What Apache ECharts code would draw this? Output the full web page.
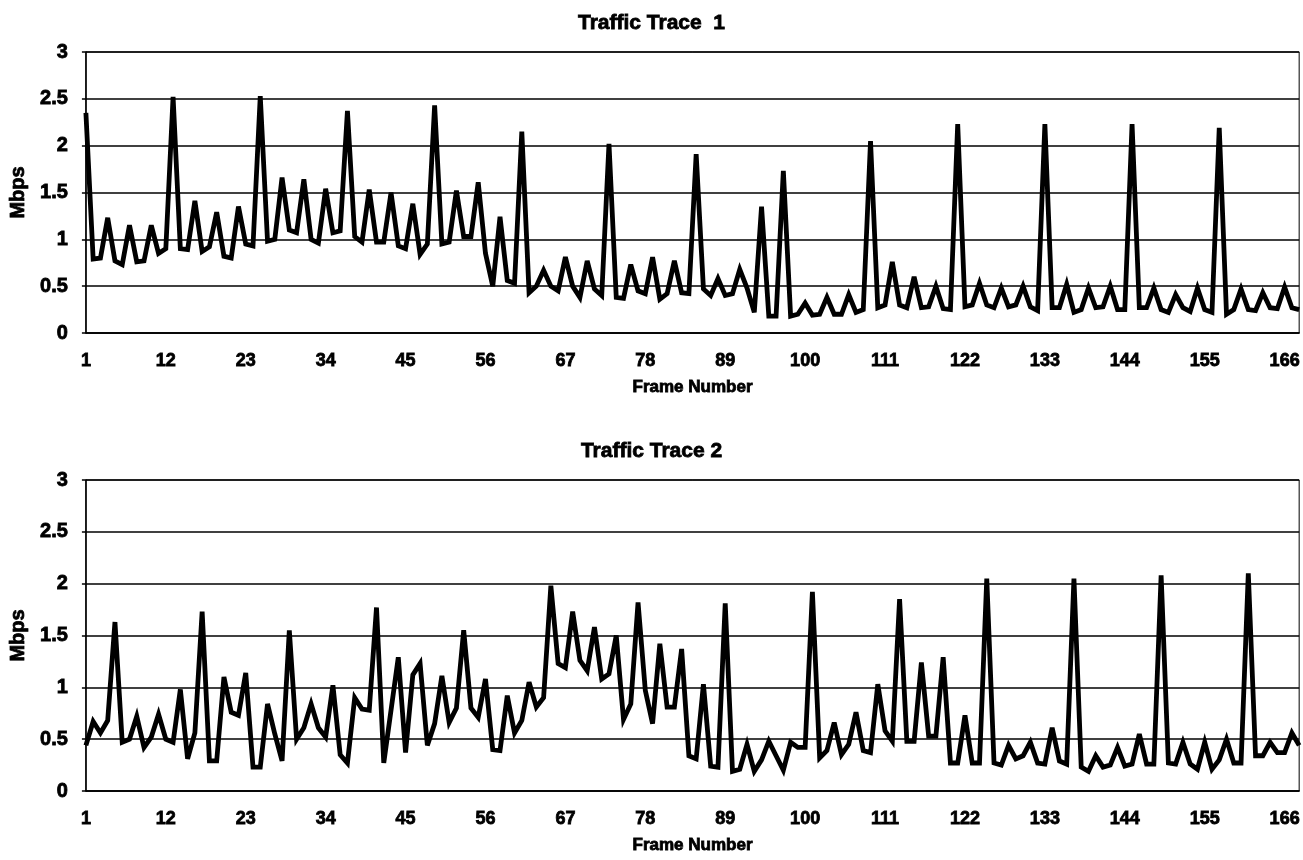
<!DOCTYPE html>
<html>
<head>
<meta charset="utf-8">
<title>Traffic Traces</title>
<script src="https://cdn.jsdelivr.net/npm/echarts@6/dist/echarts.min.js"></script>
<style>
  html, body { margin: 0; padding: 0; background: #fff; }
  #chart { width: 1303px; height: 860px; }
</style>
</head>
<body>
<div id="chart"></div>
<script>
// Frame numbers 1..168
const frames = [];
for (let i = 1; i <= 168; i++) frames.push(String(i));

// Traffic Trace 1 (Mbps per frame)
const trace1 = [
  2.35, 0.79, 0.80, 1.23, 0.77, 0.73, 1.15, 0.76, 0.77, 1.15, 0.85, 0.90,
  2.52, 0.90, 0.89, 1.41, 0.87, 0.92, 1.29, 0.82, 0.80, 1.35, 0.95, 0.93,
  2.53, 0.98, 1.00, 1.66, 1.10, 1.07, 1.64, 1.00, 0.96, 1.54, 1.07, 1.09,
  2.37, 1.03, 0.97, 1.53, 0.97, 0.97, 1.50, 0.93, 0.90, 1.38, 0.84, 0.95,
  2.43, 0.95, 0.97, 1.52, 1.03, 1.03, 1.61, 0.85, 0.50, 1.24, 0.56, 0.53,
  2.15, 0.43, 0.50, 0.67, 0.50, 0.45, 0.81, 0.50, 0.38, 0.77, 0.47, 0.40,
  2.02, 0.38, 0.37, 0.73, 0.45, 0.42, 0.81, 0.36, 0.42, 0.77, 0.43, 0.42,
  1.91, 0.47, 0.40, 0.58, 0.40, 0.42, 0.68, 0.48, 0.22, 1.35, 0.18, 0.18,
  1.73, 0.18, 0.20, 0.32, 0.19, 0.20, 0.38, 0.20, 0.20, 0.41, 0.22, 0.25,
  2.05, 0.27, 0.30, 0.76, 0.30, 0.27, 0.60, 0.27, 0.28, 0.50, 0.26, 0.25,
  2.23, 0.28, 0.30, 0.53, 0.30, 0.27, 0.48, 0.28, 0.30, 0.50, 0.28, 0.24,
  2.23, 0.27, 0.27, 0.52, 0.22, 0.25, 0.48, 0.27, 0.28, 0.50, 0.25, 0.25,
  2.23, 0.27, 0.27, 0.48, 0.25, 0.22, 0.41, 0.27, 0.23, 0.48, 0.25, 0.22,
  2.19, 0.20, 0.25, 0.47, 0.25, 0.24, 0.43, 0.27, 0.26, 0.49, 0.27, 0.25
];

// Traffic Trace 2 (Mbps per frame)
const trace2 = [
  0.44, 0.67, 0.56, 0.68, 1.63, 0.47, 0.50, 0.72, 0.42, 0.52, 0.74, 0.50,
  0.47, 0.98, 0.31, 0.56, 1.73, 0.29, 0.29, 1.10, 0.76, 0.73, 1.14, 0.23,
  0.23, 0.84, 0.55, 0.29, 1.55, 0.50, 0.61, 0.84, 0.61, 0.52, 1.02, 0.35,
  0.27, 0.90, 0.79, 0.78, 1.77, 0.27, 0.78, 1.29, 0.37, 1.12, 1.23, 0.44,
  0.65, 1.11, 0.66, 0.80, 1.55, 0.80, 0.71, 1.08, 0.40, 0.39, 0.92, 0.56,
  0.68, 1.05, 0.81, 0.90, 1.98, 1.23, 1.19, 1.73, 1.26, 1.16, 1.58, 1.08,
  1.13, 1.50, 0.69, 0.84, 1.82, 0.97, 0.65, 1.42, 0.81, 0.81, 1.37, 0.34,
  0.31, 1.03, 0.24, 0.23, 1.81, 0.19, 0.21, 0.45, 0.19, 0.30, 0.48, 0.34,
  0.20, 0.47, 0.42, 0.42, 1.92, 0.32, 0.39, 0.66, 0.35, 0.45, 0.76, 0.39,
  0.37, 1.03, 0.58, 0.48, 1.85, 0.48, 0.48, 1.24, 0.53, 0.53, 1.29, 0.27,
  0.27, 0.73, 0.27, 0.27, 2.05, 0.27, 0.25, 0.44, 0.31, 0.34, 0.47, 0.27,
  0.26, 0.61, 0.29, 0.26, 2.05, 0.23, 0.19, 0.34, 0.23, 0.25, 0.42, 0.24,
  0.26, 0.55, 0.26, 0.26, 2.08, 0.27, 0.26, 0.47, 0.26, 0.21, 0.47, 0.21,
  0.30, 0.50, 0.27, 0.27, 2.10, 0.34, 0.34, 0.47, 0.37, 0.37, 0.56, 0.44
];

const titles = ['Traffic Trace  1', 'Traffic Trace 2'];
const xAxisName = 'Frame Number';
const yAxisName = 'Mbps';

const FONT = "'Liberation Sans', Arial, sans-serif";
const INK = '#000';

// Heavy bold text, thickened with a thin stroke of the same ink
function heavy(size) {
  return { color: INK, fontFamily: FONT, fontWeight: 'bold', fontSize: size,
           textBorderColor: INK, textBorderWidth: 0.8 };
}

const grids = [
  { left: 82, top: 52, width: 1219, height: 281 },
  { left: 82, top: 480, width: 1219, height: 311 }
];

function xAxisFor(i) {
  return {
    type: 'category',
    gridIndex: i,
    data: frames,
    boundaryGap: false,
    axisLine: { show: true, lineStyle: { color: INK, width: 1.5 } },
    axisTick: { show: false },
    axisLabel: Object.assign({ interval: 10, margin: 19 }, heavy(18)),
    splitLine: { show: false },
    name: xAxisName,
    nameLocation: 'middle',
    nameGap: 46,
    nameTextStyle: heavy(17)
  };
}

function yAxisFor(i) {
  return {
    type: 'value',
    gridIndex: i,
    min: 0,
    max: 3,
    interval: 0.5,
    axisLine: { show: true, lineStyle: { color: INK, width: 1.5 } },
    axisTick: { show: true, length: 4, lineStyle: { color: INK, width: 1.5 } },
    axisLabel: Object.assign({ margin: 18 }, heavy(20)),
    splitLine: { show: true, lineStyle: { color: INK, width: 1.6 } },
    name: yAxisName,
    nameLocation: 'middle',
    nameRotate: 90,
    nameGap: 54,
    nameTextStyle: heavy(20)
  };
}

const chart = echarts.init(document.getElementById('chart'), null, { renderer: 'canvas' });
chart.setOption({
  animation: false,
  backgroundColor: '#fff',
  title: [
    { text: titles[0], left: 'center', top: 8, textStyle: heavy(21) },
    { text: titles[1], left: 'center', top: 436, textStyle: heavy(21) }
  ],
  grid: grids.map(g => Object.assign({ show: true, borderColor: INK, borderWidth: 1, backgroundColor: 'transparent' }, g)),
  xAxis: [xAxisFor(0), xAxisFor(1)],
  yAxis: [yAxisFor(0), yAxisFor(1)],
  series: [
    { name: titles[0], type: 'line', xAxisIndex: 0, yAxisIndex: 0, data: trace1,
      symbol: 'none', lineStyle: { color: INK, width: 4.8, join: 'miter', miterLimit: 4 } },
    { name: titles[1], type: 'line', xAxisIndex: 1, yAxisIndex: 1, data: trace2,
      symbol: 'none', lineStyle: { color: INK, width: 4.8, join: 'miter', miterLimit: 4 } }
  ]
});
</script>
</body>
</html>
